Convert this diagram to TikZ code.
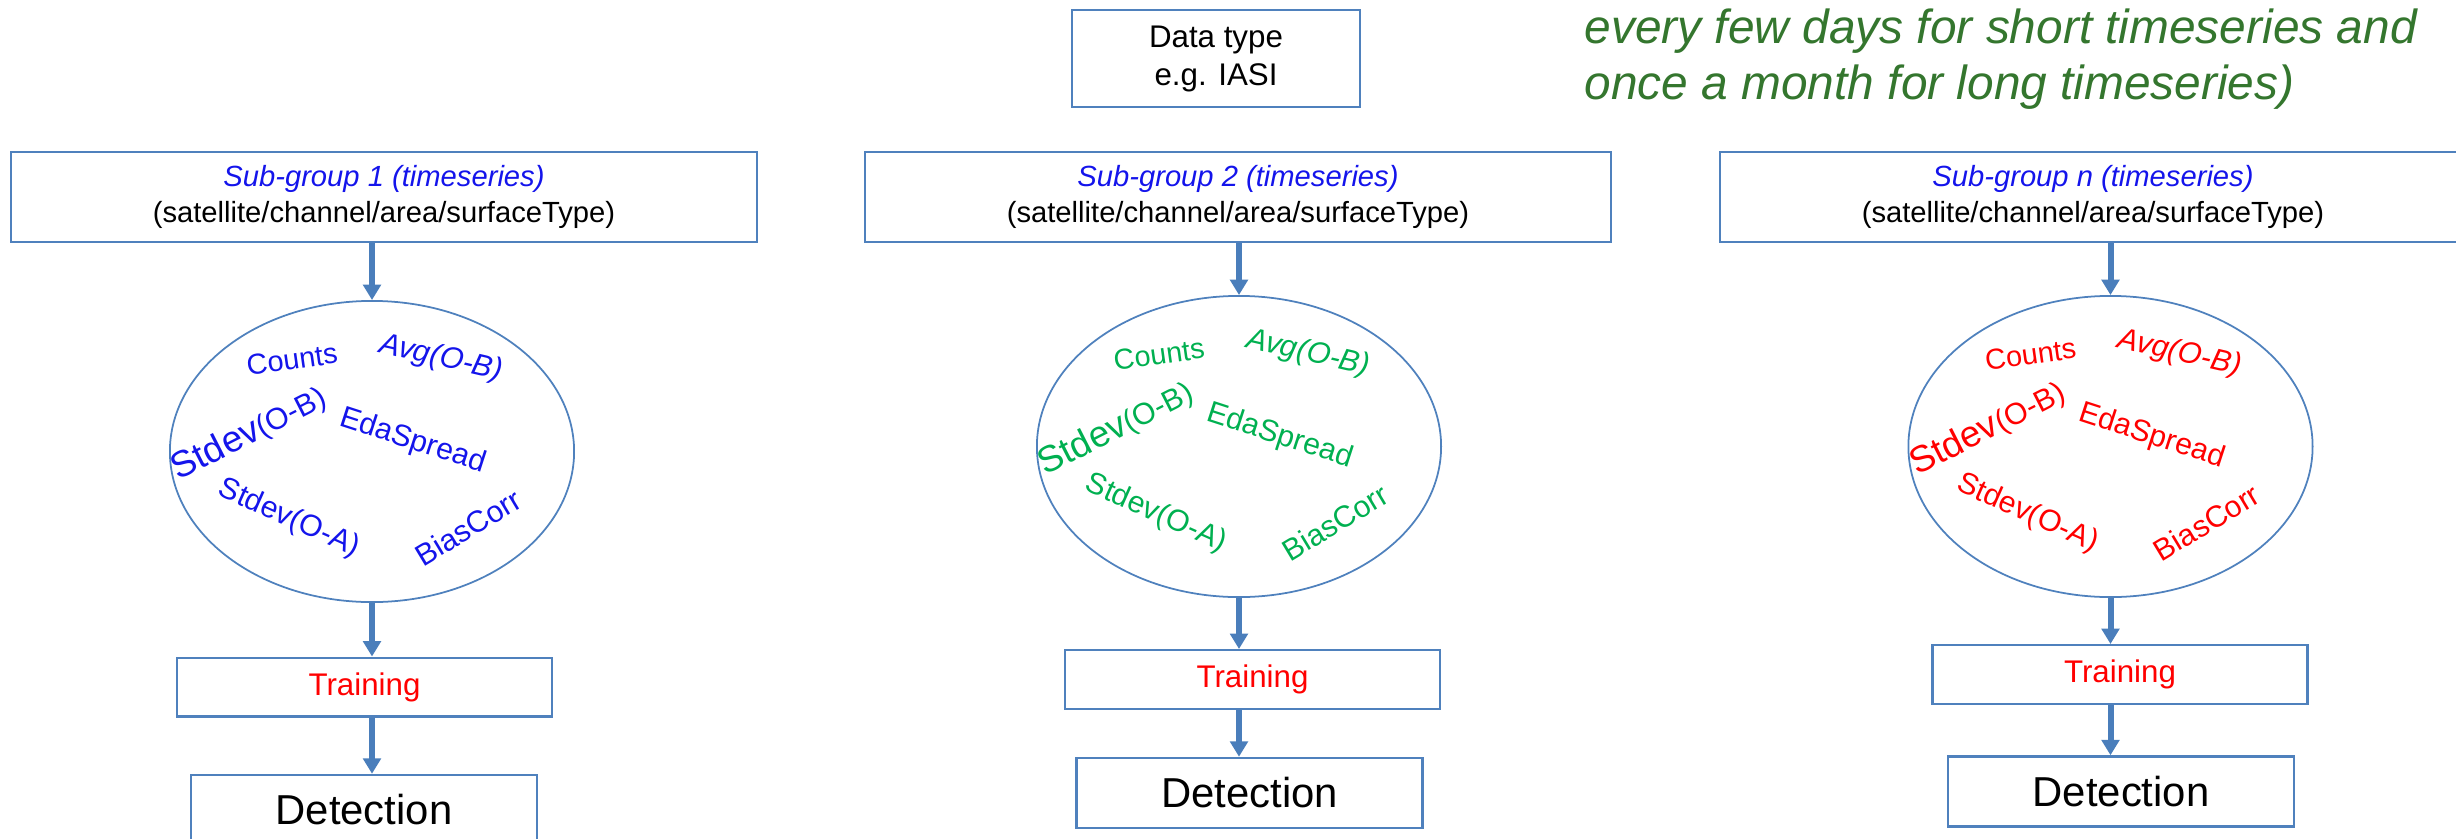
\documentclass[tikz,border=0pt]{standalone}
\usepackage{fontspec}
\setmainfont{Liberation Sans}
\usetikzlibrary{shapes.geometric,arrows.meta}

\definecolor{boxblue}{RGB}{79,129,189}
\definecolor{flowblue}{RGB}{74,126,187}
\definecolor{grpblue}{RGB}{20,20,235}
\definecolor{grpgreen}{RGB}{0,176,80}
\definecolor{grpred}{RGB}{255,0,0}
\definecolor{notegreen}{RGB}{52,118,46}

\tikzset{
  box/.style={draw=boxblue, line width=0.7pt, inner sep=0pt, align=center},
  subbox/.style={box, minimum width=7.46cm, minimum height=0.9cm, font=\fontsize{8.3}{10.2}\selectfont},
  trainbox/.style={box, minimum width=3.75cm, minimum height=0.585cm, text=grpred, font=\fontsize{8.9}{10.5}\selectfont},
  detbox/.style={box, minimum width=3.46cm, minimum height=0.7cm, font=\fontsize{11.9}{14}\selectfont},
  cloud/.style={ellipse, draw=boxblue, line width=0.5pt, minimum width=4.04cm, minimum height=3.01cm, inner sep=0pt},
  flow/.style={draw=flowblue, line width=1.7pt, -{Triangle[width=5pt,length=4.4pt]}}
}

\newcommand{\cloudwords}[2]{%
  \begin{scope}[shift={(#1.center)}, every node/.append style={text=#2, inner sep=0pt, font=\fontsize{8.6}{10}\selectfont}]
    \node[rotate=8, font=\fontsize{8.2}{10}\selectfont] (#1-counts) at (-80,-92) {Counts};
    \node[rotate=-13, font=\fontsize{8.6}{10}\selectfont\itshape] (#1-avg) at (69,-93) {Avg(O-B)};
    \node[rotate=27] (#1-sdb) at (-123,-18) {{\fontsize{10.5}{12}\selectfont Stdev}(O-B)};
    \node[rotate=-18] (#1-eda) at (41,-10) {EdaSpread};
    \node[rotate=-24] (#1-sda) at (-83,67) {Stdev(O-A)};
    \node[rotate=31] (#1-bias) at (96,76) {BiasCorr};
  \end{scope}}

\begin{document}
\begin{tikzpicture}[x=0.01cm, y=-0.01cm]
\useasboundingbox (0,0) rectangle (2456,839);

\node[box, minimum width=2.88cm, minimum height=0.97cm, font=\fontsize{8.9}{10.8}\selectfont] (dtype) at (1216,58.5) {Data type\\e.g. IASI};
\node[anchor=north west, inner sep=0pt, align=left, text=notegreen, font=\fontsize{13.6}{15.9}\selectfont\itshape] (note) at (1584,8) {every few days for short timeseries and\\once a month for long timeseries)};

\node[subbox] (sub1) at (384,197) {\textcolor{grpblue}{\itshape Sub-group 1 (timeseries)}\\(satellite/channel/area/surfaceType)};
\node[cloud] (ell1) at (372,451.5) {};
\node[trainbox] (train1) at (364.5,687) {Training};
\node[detbox] (det1) at (364,810) {Detection};
\cloudwords{ell1}{grpblue}
\draw[flow] (ell1.north |- sub1.south) -- (ell1.north);
\draw[flow] (ell1.south) -- (ell1.south |- train1.north);
\draw[flow] (ell1.south |- train1.south) -- (ell1.south |- det1.north);

\node[subbox] (sub2) at (1238,197) {\textcolor{grpblue}{\itshape Sub-group 2 (timeseries)}\\(satellite/channel/area/surfaceType)};
\node[cloud] (ell2) at (1239,446.5) {};
\node[trainbox] (train2) at (1252.5,679.5) {Training};
\node[detbox] (det2) at (1249.5,793) {Detection};
\cloudwords{ell2}{grpgreen}
\draw[flow] (ell2.north |- sub2.south) -- (ell2.north);
\draw[flow] (ell2.south) -- (ell2.south |- train2.north);
\draw[flow] (ell2.south |- train2.south) -- (ell2.south |- det2.north);

\node[subbox] (subn) at (2093,197) {\textcolor{grpblue}{\itshape Sub-group n (timeseries)}\\(satellite/channel/area/surfaceType)};
\node[cloud] (elln) at (2110.5,446.5) {};
\node[trainbox] (trainn) at (2120,674.5) {Training};
\node[detbox] (detn) at (2121,791.5) {Detection};
\cloudwords{elln}{grpred}
\draw[flow] (elln.north |- subn.south) -- (elln.north);
\draw[flow] (elln.south) -- (elln.south |- trainn.north);
\draw[flow] (elln.south |- trainn.south) -- (elln.south |- detn.north);
\end{tikzpicture}
\end{document}
